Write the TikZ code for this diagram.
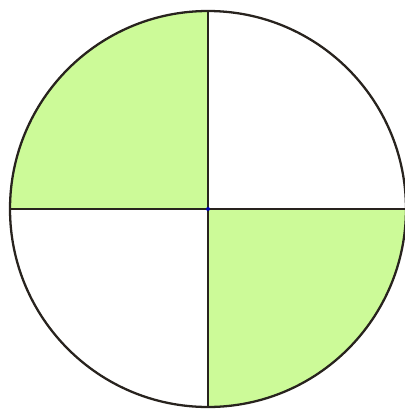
\documentclass[tikz,border=0pt]{standalone}
\definecolor{qgreen}{RGB}{204,250,152}
\definecolor{qline}{RGB}{40,35,30}
\tikzset{quad/.style={fill=qgreen,draw=none}, edge/.style={draw=qline,line width=1.3pt}}
\begin{document}
\begin{tikzpicture}[x=0.02cm,y=-0.02cm]
\useasboundingbox (0,0) rectangle (405,420);
\coordinate (c) at (208,209);
\coordinate (l) at (10,209);
\coordinate (r) at (406,209);
\coordinate (t) at (208,11);
\coordinate (b) at (208,407);
\fill[quad] (c) -- (l) arc[start angle=180,end angle=270,radius=198] -- cycle;
\fill[quad] (c) -- (r) arc[start angle=0,end angle=90,radius=198] -- cycle;
\draw[edge] (c) circle[radius=198];
\draw[edge] (l) -- (r);
\draw[edge] (t) -- (b);
\fill[blue!70!black] (c) circle[radius=2];
\end{tikzpicture}
\end{document}
